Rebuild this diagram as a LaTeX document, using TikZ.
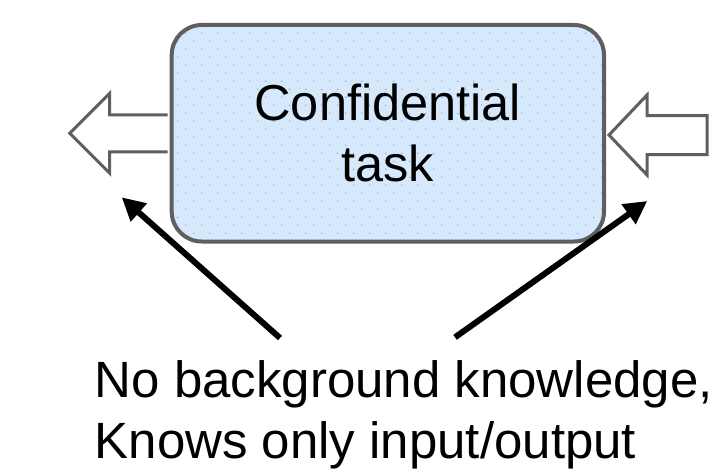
\documentclass[tikz,border=0pt]{standalone}
\usepackage{fontspec}
\setmainfont{Liberation Sans}
\usetikzlibrary{calc,arrows.meta}
\definecolor{boxfill}{RGB}{214,232,252}
\definecolor{boxline}{RGB}{95,95,95}
\definecolor{dotcol}{RGB}{160,172,190}
\tikzset{
  taskbox/.style={draw=boxline, line width=4pt, fill=boxfill, rounded corners=30pt,
    inner sep=0pt, align=center, font=\fontsize{50.5}{61}\selectfont,
    minimum width=432.3pt, minimum height=216.5pt},
  blockarrow/.style={draw=boxline, line width=3pt, fill=white, line join=miter},
  pointer/.style={line width=6pt, -{Triangle[length=23pt,width=23pt]}},
  notetext/.style={inner sep=0pt, align=left, font=\fontsize{51}{61}\selectfont}
}
\begin{document}
\begin{tikzpicture}[x=1pt,y=-1pt]
\useasboundingbox (0,0) rectangle (719,468);
% confidential task box
\node[taskbox, path picture={
    \foreach \r in {0,...,27}{
      \pgfmathsetmacro\yy{0.3+8*\r}
      \pgfmathsetmacro\xs{-2+8*mod(\r+1,2)}
      \foreach \c in {0,...,27}{
        \fill[dotcol] ($(path picture bounding box.north west)+(\xs+16*\c,\yy)$) circle (0.8pt);
      }
    }
  }] (task) at (387.85,133.25) {Confidential\\task};
% block arrows
\coordinate (lstart) at ($(task.west)+(-2,-18.5)$);
\draw[blockarrow] (lstart) -- ++(-58,0) -- ++(0,-21.5) -- ++(-40,40) -- ++(40,40) -- ++(0,-21.5) -- ++(58,0);
\coordinate (rtip) at ($(task.east)+(3,1.75)$);
\draw[blockarrow] (rtip) -- ++(38,-40) -- ++(0,20.5) -- ++(60,0) -- ++(0,39) -- ++(-60,0) -- ++(0,20.5) -- cycle;
% note text
\node[notetext, anchor=north west] (note) at (94.5,360.5) {No background knowledge,\\Knows only input/output};
% pointers
\coordinate (ltail) at (280,338);
\coordinate (lhead) at (121.7,197.3);
\coordinate (rtail) at (455,337.3);
\coordinate (rhead) at (647.3,201);
\draw[pointer] (ltail) -- (lhead);
\draw[pointer] (rtail) -- (rhead);
\end{tikzpicture}
\end{document}
